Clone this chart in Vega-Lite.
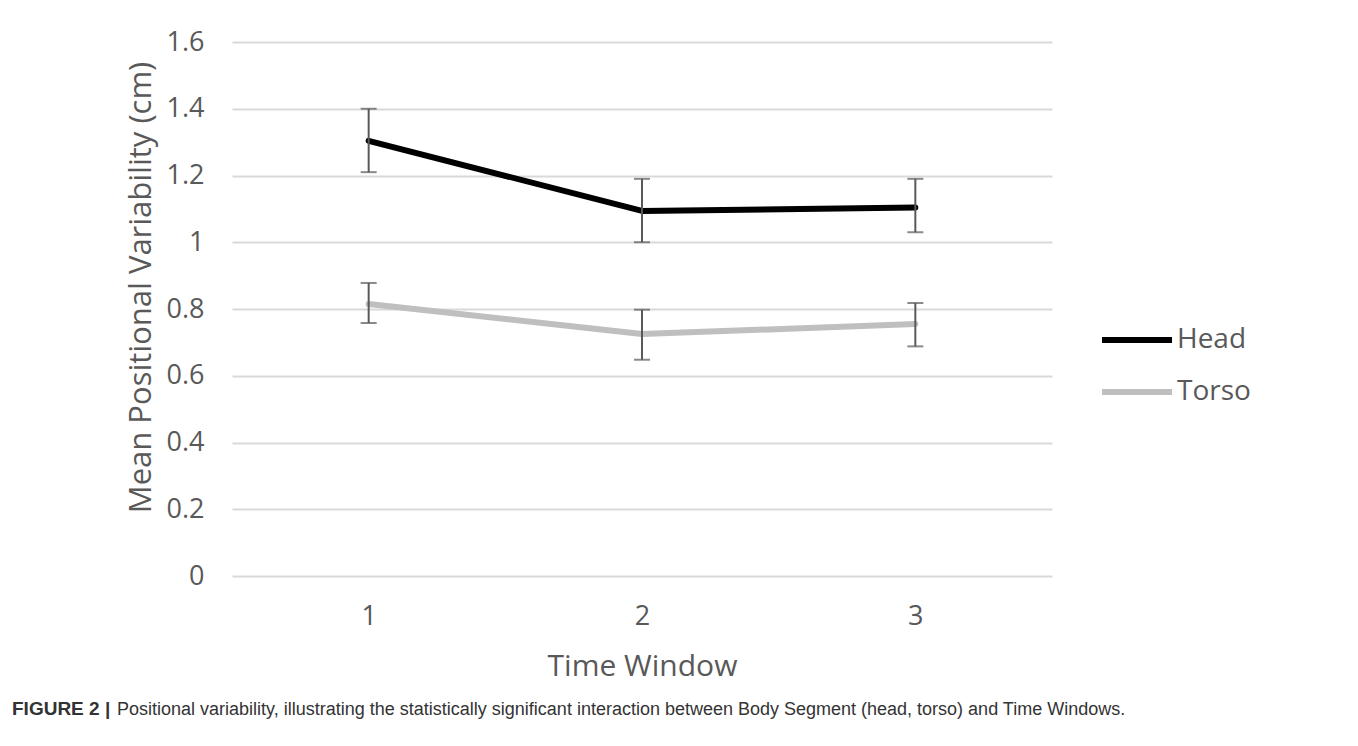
{
  "$schema": "https://vega.github.io/schema/vega-lite/v6.json",
  "width": 820,
  "height": 534,
  "autosize": {"type": "none"},
  "padding": {"left": 232, "top": 42, "right": 306, "bottom": 170},
  "background": "white",
  "config": {
    "view": {"stroke": null},
    "font": "Open Sans"
  },
  "title": {
    "text": "FIGURE 2 |",
    "subtitle": "\u200b\u00a0\u00a0\u00a0\u00a0\u00a0\u00a0\u00a0\u00a0\u00a0\u00a0\u00a0\u00a0\u00a0\u00a0\u00a0\u00a0\u00a0\u00a0\u00a0\u00a0\u00a0Positional variability, illustrating the statistically significant interaction between Body Segment (head, torso) and Time Windows.",
    "orient": "bottom",
    "anchor": "start",
    "frame": "group",
    "dx": -220,
    "offset": 19,
    "font": "Liberation Sans",
    "fontSize": 19,
    "fontWeight": "bold",
    "color": "#333333",
    "subtitleFont": "Liberation Sans",
    "subtitleFontSize": 18,
    "subtitleColor": "#333333",
    "subtitlePadding": -18
  },
  "data": {
    "values": [
      {"window": "1", "segment": "Head", "mean": 1.304, "lo": 1.21, "hi": 1.40},
      {"window": "2", "segment": "Head", "mean": 1.094, "lo": 1.00, "hi": 1.19},
      {"window": "3", "segment": "Head", "mean": 1.104, "lo": 1.03, "hi": 1.19},
      {"window": "1", "segment": "Torso", "mean": 0.815, "lo": 0.758, "hi": 0.878},
      {"window": "2", "segment": "Torso", "mean": 0.725, "lo": 0.648, "hi": 0.798},
      {"window": "3", "segment": "Torso", "mean": 0.755, "lo": 0.688, "hi": 0.818}
    ]
  },
  "encoding": {
    "x": {
      "field": "window",
      "type": "ordinal",
      "scale": {"type": "point", "padding": 0.5},
      "axis": {
        "title": "Time Window",
        "labelAngle": 0,
        "domain": false,
        "ticks": false,
        "grid": false,
        "labelFontSize": 27,
        "labelColor": "#595959",
        "labelPadding": 27,
        "titleFontSize": 30,
        "titleFontWeight": "normal",
        "titleColor": "#595959",
        "titlePadding": 22
      }
    }
  },
  "layer": [
    {
      "mark": {"type": "line", "strokeWidth": 6, "strokeCap": "round", "strokeJoin": "round"},
      "encoding": {
        "y": {
          "field": "mean",
          "type": "quantitative",
          "scale": {"domain": [0, 1.6], "nice": false},
          "axis": {
            "title": "Mean Positional Variability (cm)",
            "values": [0, 0.2, 0.4, 0.6, 0.8, 1, 1.2, 1.4, 1.6],
            "format": "~g",
            "domain": false,
            "ticks": false,
            "grid": true,
            "gridColor": "#d9d9d9",
            "gridWidth": 2,
            "labelFontSize": 27,
            "labelColor": "#595959",
            "labelPadding": 28,
            "titleFontSize": 31,
            "titleFontWeight": "normal",
            "titleColor": "#595959",
            "titleX": -75,
            "titleY": 245
          }
        },
        "color": {
          "field": "segment",
          "type": "nominal",
          "scale": {"domain": ["Head", "Torso"], "range": ["#000000", "#bfbfbf"]},
          "legend": {
            "title": null,
            "orient": "none",
            "legendX": 867,
            "legendY": 260,
            "symbolType": "stroke",
            "symbolSize": 4900,
            "symbolStrokeWidth": 6,
            "labelFontSize": 28,
            "labelColor": "#595959",
            "labelOffset": 2,
            "rowPadding": -11,
            "padding": 0
          }
        }
      }
    },
    {
      "mark": {"type": "rule", "color": "#595959", "strokeWidth": 2},
      "encoding": {
        "y": {"field": "lo", "type": "quantitative"},
        "y2": {"field": "hi"}
      }
    },
    {
      "mark": {"type": "tick", "orient": "horizontal", "color": "#595959", "thickness": 2, "size": 16},
      "encoding": {
        "y": {"field": "lo", "type": "quantitative"}
      }
    },
    {
      "mark": {"type": "tick", "orient": "horizontal", "color": "#595959", "thickness": 2, "size": 16},
      "encoding": {
        "y": {"field": "hi", "type": "quantitative"}
      }
    }
  ]
}
